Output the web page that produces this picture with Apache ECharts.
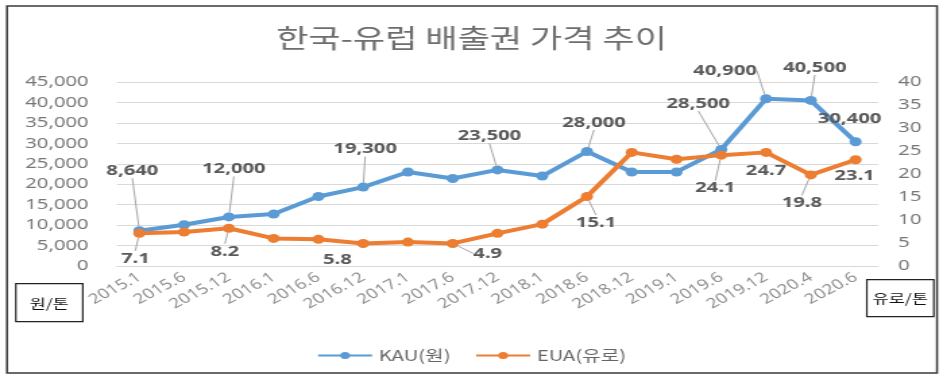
<!DOCTYPE html>
<html><head><meta charset="utf-8">
<script src="https://cdn.jsdelivr.net/npm/echarts@6/dist/echarts.min.js"></script>
<style>
html,body{margin:0;padding:0;background:#fff;overflow:hidden}
#wrap{width:943px;height:382px;overflow:hidden;position:relative}
#c{width:699px;height:382px;transform:scaleX(1.34907);transform-origin:0 0}
</style></head>
<body><div id="wrap"><div id="c"></div></div>
<script>
// ---- data ----
const categories = ['2015.1','2015.6','2015.12','2016.1','2016.6','2016.12','2017.1','2017.6','2017.12','2018.1','2018.6','2018.12','2019.1','2019.6','2019.12','2020.4','2020.6'];
const kauValues = [8640, 10100, 12000, 12700, 17000, 19300, 23000, 21400, 23500, 22000, 28000, 23000, 23000, 28500, 40900, 40500, 30400];
const euaValues = [7.1, 7.4, 8.2, 6.0, 5.8, 4.9, 5.2, 4.9, 7.1, 9.1, 15.1, 24.7, 23.2, 24.1, 24.7, 19.8, 23.1];
const kauLabelIdx = [0, 2, 5, 8, 10, 13, 14, 15, 16];
const euaLabelIdx = [0, 2, 4, 7, 10, 13, 14, 15, 16];
const titleText = '한국-유럽 배출권 가격 추이';
const kauName = 'KAU(원)';
const euaName = 'EUA(유로)';
const leftUnit = '원/톤';
const rightUnit = '유로/톤';

// ---- label placement (style only; offsets in screen px) ----
const K = 699 / 943; // horizontal un-stretch factor
const kauOff = {0:[-7,-60,1],2:[5,-48,1],5:[2,-38,1],8:[-8,-34,1],10:[7,-29,1],13:[-23,-46,1],14:[-41,-28,1],15:[4,-33,1],16:[-6,-23,0]};
const euaOff = {0:[-4,25,1],2:[-4,23,1],4:[19,20,0],7:[35,10,1],10:[9,26,1],13:[-6,33,1],14:[0,18,0],15:[-9,28,1],16:[-1,16,0]};

const numFont = "'Noto Sans', 'Noto Sans CJK KR', sans-serif";
const krFont = "'Noto Sans CJK KR', 'Noto Sans', sans-serif";

function buildData(values, idxs, offs) {
  return values.map((v, i) => {
    const show = idxs.indexOf(i) >= 0;
    return {
      value: v,
      label: { show: show },
      labelLine: { show: show && offs[i] && offs[i][2] === 1 }
    };
  });
}

const chart = echarts.init(document.getElementById('c'), null, {renderer: 'canvas'});
const labelStyle = {
  position: 'inside',
  color: '#595959',
  fontWeight: 'bold',
  fontSize: 15,
  fontFamily: numFont
};
const lineLabelLine = { lineStyle: { color: '#a6a6a6', width: 1 }, smooth: false };

chart.setOption({
  backgroundColor: '#ffffff',
  animation: false,
  title: {
    text: titleText,
    left: 'center',
    top: 20,
    textStyle: { fontFamily: krFont, fontSize: 26, fontWeight: 'normal', color: '#6e6e6e' }
  },
  legend: {
    top: 343,
    left: 'center',
    itemWidth: 40,
    itemHeight: 9,
    itemGap: 18,
    textStyle: { fontFamily: krFont, fontSize: 15, color: '#666666' },
    data: [kauName, euaName]
  },
  grid: { left: 86.7, right: 48.2, top: 82, bottom: 116, containLabel: false },
  xAxis: {
    type: 'category',
    data: categories,
    boundaryGap: true,
    axisLine: { show: true, lineStyle: { color: '#d9d9d9', width: 1 } },
    axisTick: { show: false },
    axisLabel: { interval: 0, rotate: 35, margin: 10, fontSize: 14, fontFamily: numFont, color: '#8f8f8f' }
  },
  yAxis: [
    {
      type: 'value', min: 0, max: 45000, interval: 5000,
      axisLine: { show: false }, axisTick: { show: false },
      splitLine: { lineStyle: { color: '#d9d9d9', width: 1 } },
      axisLabel: { margin: 21, fontSize: 15, fontFamily: numFont, color: '#777777',
        formatter: v => v.toLocaleString('en-US') }
    },
    {
      type: 'value', min: 0, max: 40, interval: 5, position: 'right',
      axisLine: { show: false }, axisTick: { show: false },
      splitLine: { show: false },
      axisLabel: { margin: 15, fontSize: 15, fontFamily: numFont, color: '#777777' }
    }
  ],
  series: [
    {
      name: kauName, type: 'line', yAxisIndex: 0,
      data: buildData(kauValues, kauLabelIdx, kauOff),
      symbol: 'circle', symbolSize: 9,
      lineStyle: { color: '#5b9bd5', width: 4 },
      itemStyle: { color: '#5b9bd5' },
      label: Object.assign({}, labelStyle, { formatter: p => Number(p.value).toLocaleString('en-US') }),
      labelLine: lineLabelLine,
      labelLayout: function (p) {
        const o = kauOff[p.dataIndex];
        if (!o) return {};
        return { dx: o[0] * K, dy: o[1] };
      },
      z: 3
    },
    {
      name: euaName, type: 'line', yAxisIndex: 1,
      data: buildData(euaValues, euaLabelIdx, euaOff),
      symbol: 'circle', symbolSize: 9,
      lineStyle: { color: '#ed7d31', width: 4 },
      itemStyle: { color: '#ed7d31' },
      label: Object.assign({}, labelStyle, { formatter: p => Number(p.value).toFixed(1) }),
      labelLine: lineLabelLine,
      labelLayout: function (p) {
        const o = euaOff[p.dataIndex];
        if (!o) return {};
        return { dx: o[0] * K, dy: o[1] };
      },
      z: 4
    }
  ],
  graphic: [
    { type: 'rect', shape: { x: 7 * K, y: 6, width: 930 * K, height: 367 },
      style: { fill: 'none', stroke: '#3a3a3a', lineWidth: 1.5 }, silent: true, z: 100 },
    { type: 'group', left: 15 * K, top: 283, children: [
      { type: 'rect', shape: { x: 0, y: 0, width: 67 * K, height: 38 },
        style: { fill: '#fff', stroke: '#222', lineWidth: 1.2 } },
      { type: 'text', x: 33.5 * K, y: 19,
        style: { text: leftUnit, fill: '#111', font: "13px 'Noto Sans CJK KR'", align: 'center', verticalAlign: 'middle' } }
    ]},
    { type: 'group', left: 866 * K, top: 279, children: [
      { type: 'rect', shape: { x: 0, y: 0, width: 67 * K, height: 37 },
        style: { fill: '#fff', stroke: '#222', lineWidth: 1.2 } },
      { type: 'text', x: 33.5 * K, y: 18.5,
        style: { text: rightUnit, fill: '#111', font: "13px 'Noto Sans CJK KR'", align: 'center', verticalAlign: 'middle' } }
    ]}
  ]
});
</script>
</body></html>
